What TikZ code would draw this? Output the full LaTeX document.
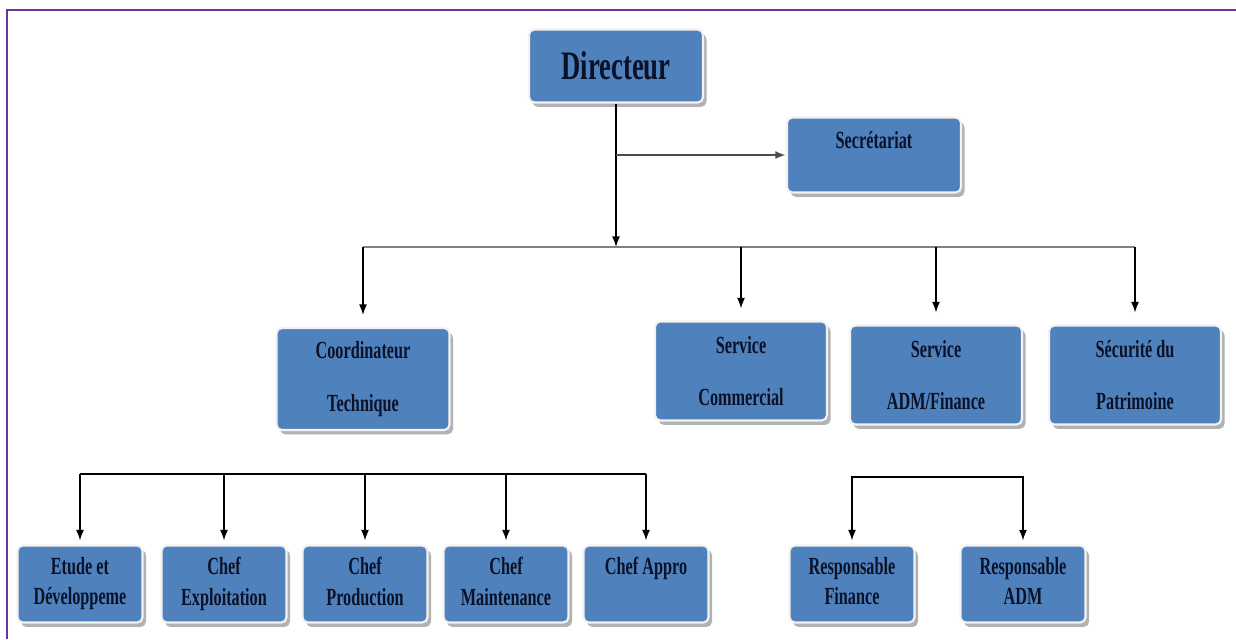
\documentclass[tikz,border=0pt]{standalone}
\usepackage{fontspec}
\usepackage{xcolor}
\usepackage{tikz}
\usetikzlibrary{arrows.meta,shadows}
\newfontfamily\orgfont[FakeStretch=0.66]{Liberation Serif}
\definecolor{boxblue}{HTML}{4F81BD}
\definecolor{boxtext}{HTML}{0A1228}
\definecolor{frame}{HTML}{7030A0}
\tikzset{
  box/.style={draw=white!90!gray, line width=1.2pt, fill=boxblue, rounded corners=3pt,
    text=boxtext, align=center, inner sep=2pt,
    drop shadow={shadow xshift=2pt, shadow yshift=-2.5pt, fill=gray!60, opacity=1}},
  head/.style={box, minimum width=3.48cm, minimum height=1.46cm,
    font=\orgfont\bfseries\fontsize{23}{26}\selectfont},
  mid/.style={box, minimum width=3.44cm, minimum height=1.98cm,
    font=\orgfont\bfseries\fontsize{14}{30}\selectfont},
  leaf/.style={box, minimum width=2.5cm, minimum height=1.54cm, text depth=0.12cm,
    font=\orgfont\bfseries\fontsize{14}{17.5}\selectfont},
  link/.style={line width=0.8pt, draw=black, -{Latex[length=6pt,width=4.5pt]}},
  dlink/.style={link, {Latex[length=6pt,width=4.5pt]}-{Latex[length=6pt,width=4.5pt]}},
  bus/.style={line width=1.4pt, draw=gray},
}

\begin{document}
\begin{tikzpicture}[x=0.02cm, y=-0.02cm]
  \useasboundingbox (0,0) rectangle (1236,639);
  \draw[frame, line width=1.1pt] (1236,10) -- (7,10) -- (7,639);

  % top
  \node[head] (dir) at (616,66) {Directeur};
  \node[mid, minimum width=3.48cm, minimum height=1.5cm, text depth=0.6cm] (sec) at (874,155) {Secrétariat};

  % services
  \node[mid, minimum width=3.46cm, minimum height=2.04cm] (coord) at (363,379) {Coordinateur\\Technique};
  \node[mid] (com) at (741,371) {Service\\Commercial};
  \node[mid] (adm) at (936,375) {Service\\ADM/Finance};
  \node[mid] (secu) at (1135,375) {Sécurité du\\Patrimoine};

  % technical staff
  \node[leaf] (etude) at (80,584) {Etude et\\Développeme};
  \node[leaf] (expl) at (224,584) {Chef\\Exploitation};
  \node[leaf] (prod) at (365,584) {Chef\\Production};
  \node[leaf] (maint) at (506,584) {Chef\\Maintenance};
  \node[leaf] (appro) at (646,584) {Chef Appro\\\mbox{}};

  % finance staff
  \node[leaf] (rfin) at (852,584) {Responsable\\Finance};
  \node[leaf] (radm) at (1023,584) {Responsable\\ADM};

  \coordinate (split) at (616,247);   % service bus
  \coordinate (tbus) at (0,474);      % technical bus
  \coordinate (rbus) at (0,477);      % finance bus

  \draw[link] (dir) -- (split);
  \draw[link, draw=gray!60!black, line width=1.3pt] (dir.south |- sec.west) -- (sec.west);

  \draw[bus] (coord.north |- split) -- (secu.north |- split);
  \foreach \n in {coord,com,adm,secu}
    \draw[link, shorten >=0.24cm] (\n.north |- split) -- (\n.north);

  \draw[line width=1.4pt] (etude.north |- tbus) -- (appro.north |- tbus);
  \foreach \n in {etude,expl,prod,maint,appro}
    \draw[link, shorten >=0.08cm] (\n.north |- tbus) -- (\n.north);

  \draw[dlink, shorten >=0.08cm, shorten <=0.08cm] (rfin.north) -- (rfin.north |- rbus)
    -- (radm.north |- rbus) -- (radm.north);
\end{tikzpicture}
\end{document}
